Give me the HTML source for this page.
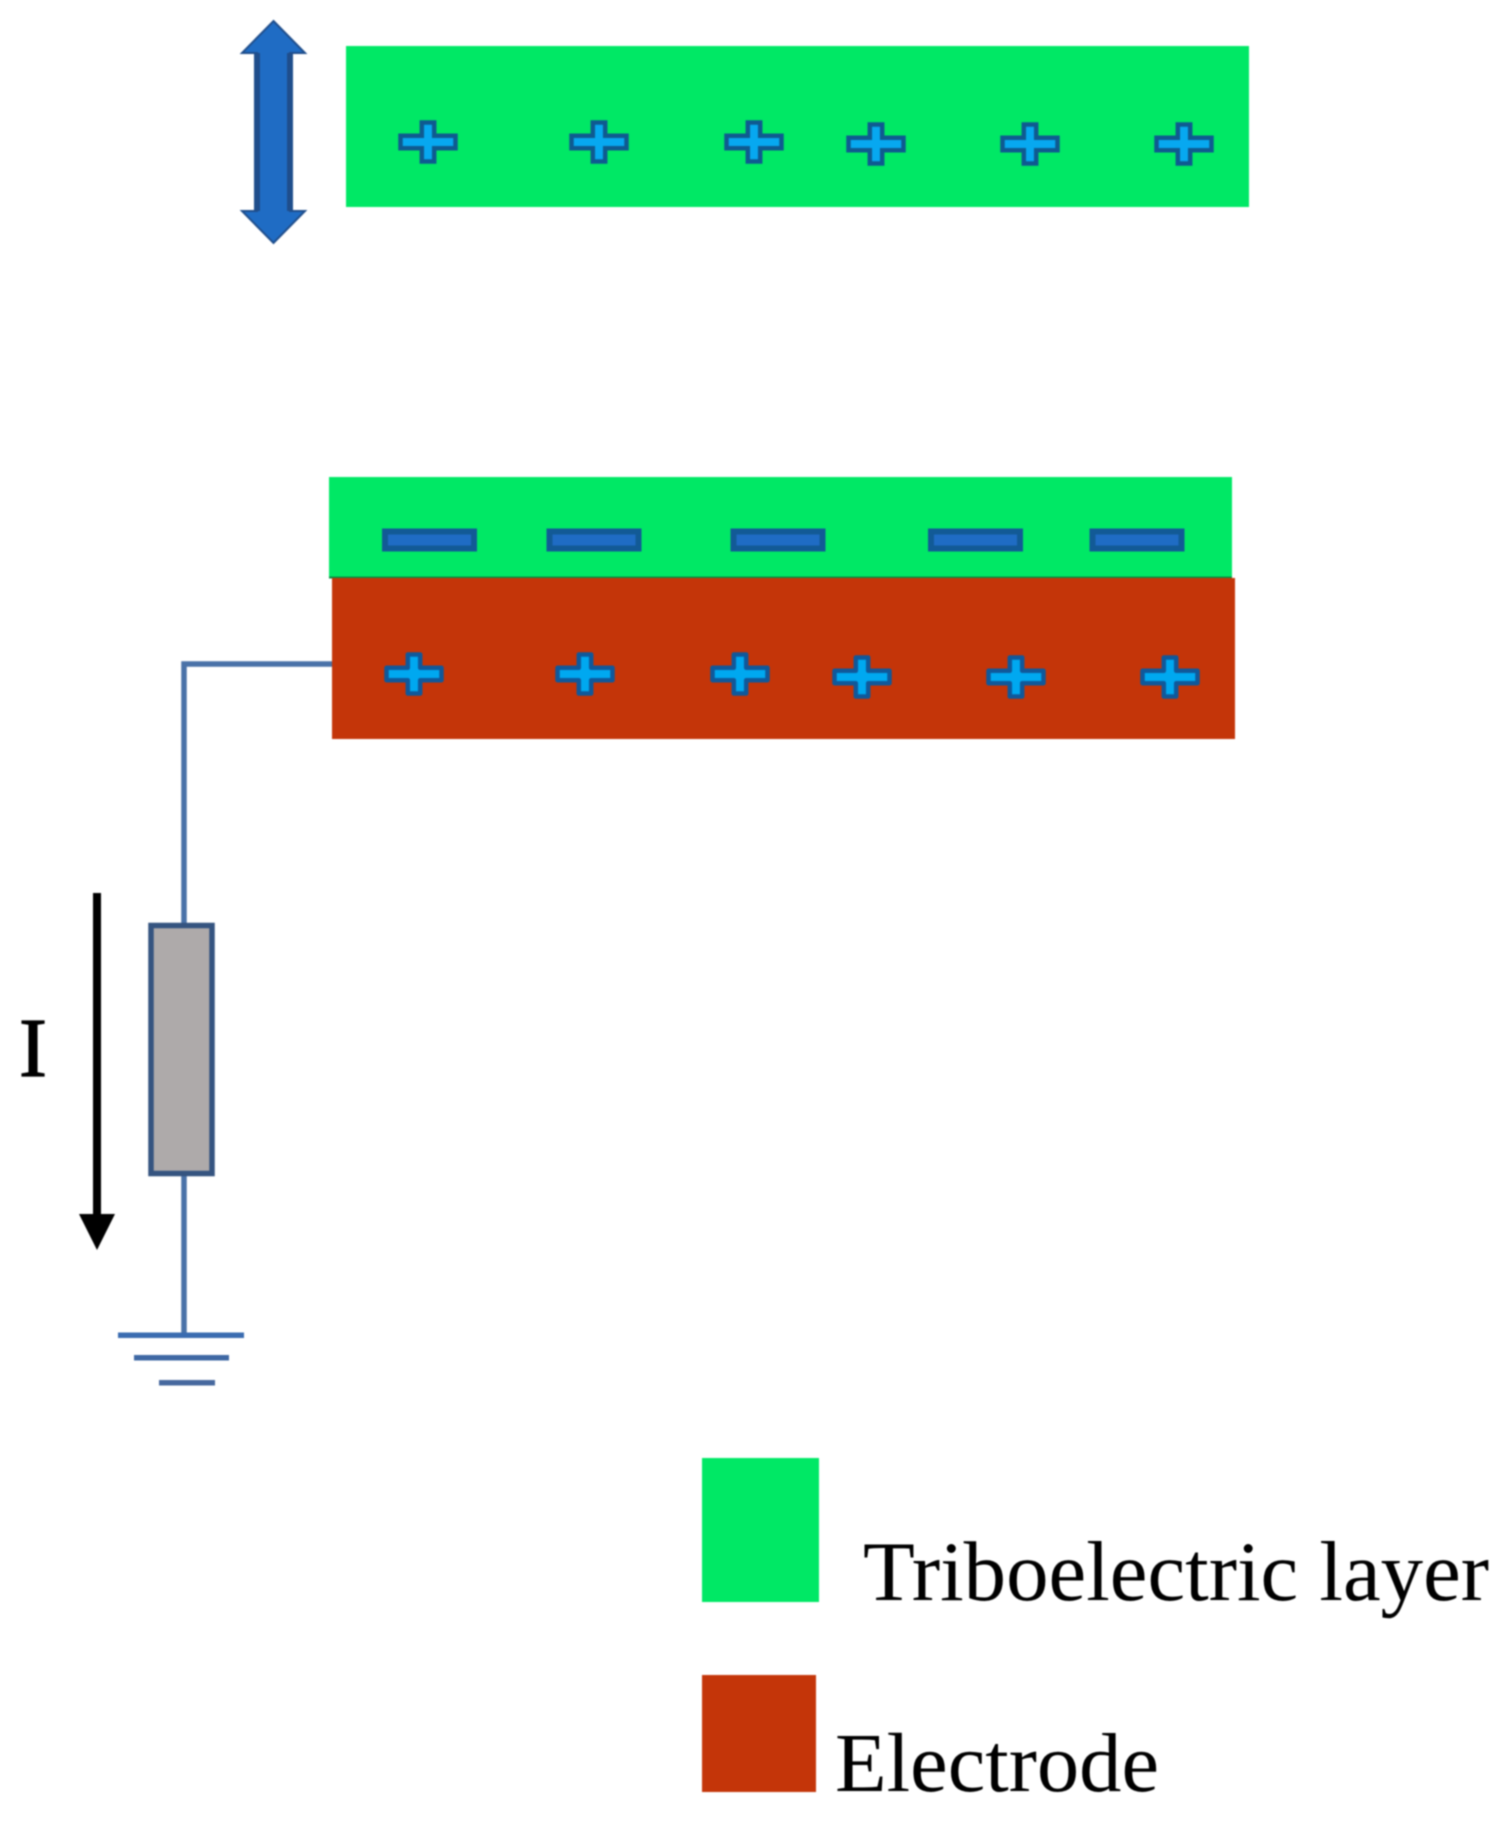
<!DOCTYPE html>
<html>
<head>
<meta charset="utf-8">
<style>
html,body{margin:0;padding:0;background:#fff;width:1510px;height:1830px;overflow:hidden}
svg{display:block;filter:blur(0.8px)}
text{font-family:"Liberation Serif",serif;fill:#000}
</style>
</head>
<body>
<svg width="1510" height="1830" viewBox="0 0 1510 1830" xmlns="http://www.w3.org/2000/svg">
<defs>
<path id="p" d="M-6.2-19.5H6.2V-6.2H27.5V6.2H6.2V19.5H-6.2V6.2H-27.5V-6.2H-6.2Z" fill="#07a8f0" stroke="#0f5a90" stroke-width="4.5"/>
<path id="q" d="M-6.2-19.5H6.2V-6.2H27.5V6.2H6.2V19.5H-6.2V6.2H-27.5V-6.2H-6.2Z" fill="#00a8f0" stroke="#10589a" stroke-width="4.5" stroke-linejoin="round"/>
<rect id="m" x="-44.5" y="-8.5" width="89" height="17" fill="#1f6cc4" stroke="#125a96" stroke-width="6"/>
</defs>
<rect width="1510" height="1830" fill="#fff"/>

<!-- double arrow -->
<path d="M273.5 21L305 53H290V211H305L273.5 243L242 211H257V53H242Z" fill="#1f6cc4" stroke="#1f4e8c" stroke-width="2"/>
<rect x="261" y="50" width="25" height="164" fill="#1f6cc4"/>
<path d="M257 53V211M290 53V211" stroke="#1f4e8c" stroke-width="6" fill="none"/>

<!-- top layer -->
<rect x="346" y="46" width="903" height="161" fill="#00e865"/>
<use href="#p" x="428" y="142"/>
<use href="#p" x="599" y="142"/>
<use href="#p" x="754" y="142"/>
<use href="#p" x="876" y="144"/>
<use href="#p" x="1030" y="144"/>
<use href="#p" x="1184" y="144"/>

<!-- wire -->
<path d="M332 664H184V1335" fill="none" stroke="#4a72a8" stroke-width="5.5"/>

<!-- lower triboelectric layer + electrode -->
<rect x="329" y="477" width="903" height="101" fill="#00e865"/>
<rect x="329" y="576.5" width="903" height="2" fill="#0a8a40"/>
<rect x="332" y="578" width="903" height="161" fill="#c43509"/>
<use href="#m" x="429.5" y="540"/>
<use href="#m" x="594" y="540"/>
<use href="#m" x="778" y="540"/>
<use href="#m" x="975.5" y="540"/>
<use href="#m" x="1137" y="540"/>
<use href="#q" x="414" y="674"/>
<use href="#q" x="585" y="674"/>
<use href="#q" x="740" y="674"/>
<use href="#q" x="862" y="677"/>
<use href="#q" x="1016" y="677"/>
<use href="#q" x="1170" y="677"/>

<!-- resistor -->
<rect x="151" y="925.5" width="61" height="248" fill="#aeaaaa" stroke="#355480" stroke-width="5.5"/>

<!-- ground -->
<rect x="118" y="1332.5" width="126" height="5.5" fill="#3a6cb0"/>
<rect x="134" y="1355" width="95" height="5.5" fill="#3f68a4"/>
<rect x="159" y="1380" width="56" height="5.5" fill="#46689e"/>

<!-- current arrow -->
<rect x="93" y="893" width="8" height="325" fill="#000"/>
<path d="M79 1214H115L97 1250Z" fill="#000"/>
<text x="19" y="1076" font-size="84" stroke="#000" stroke-width="1.2">I</text>

<!-- legend -->
<rect x="702" y="1458" width="117" height="144" fill="#00e865"/>
<rect x="702" y="1675" width="114" height="117" fill="#c43509"/>
<text x="863" y="1600" font-size="85" textLength="626" lengthAdjust="spacingAndGlyphs">Triboelectric layer</text>
<text x="835" y="1791" font-size="84" textLength="324" lengthAdjust="spacingAndGlyphs">Electrode</text>
</svg>
</body>
</html>
